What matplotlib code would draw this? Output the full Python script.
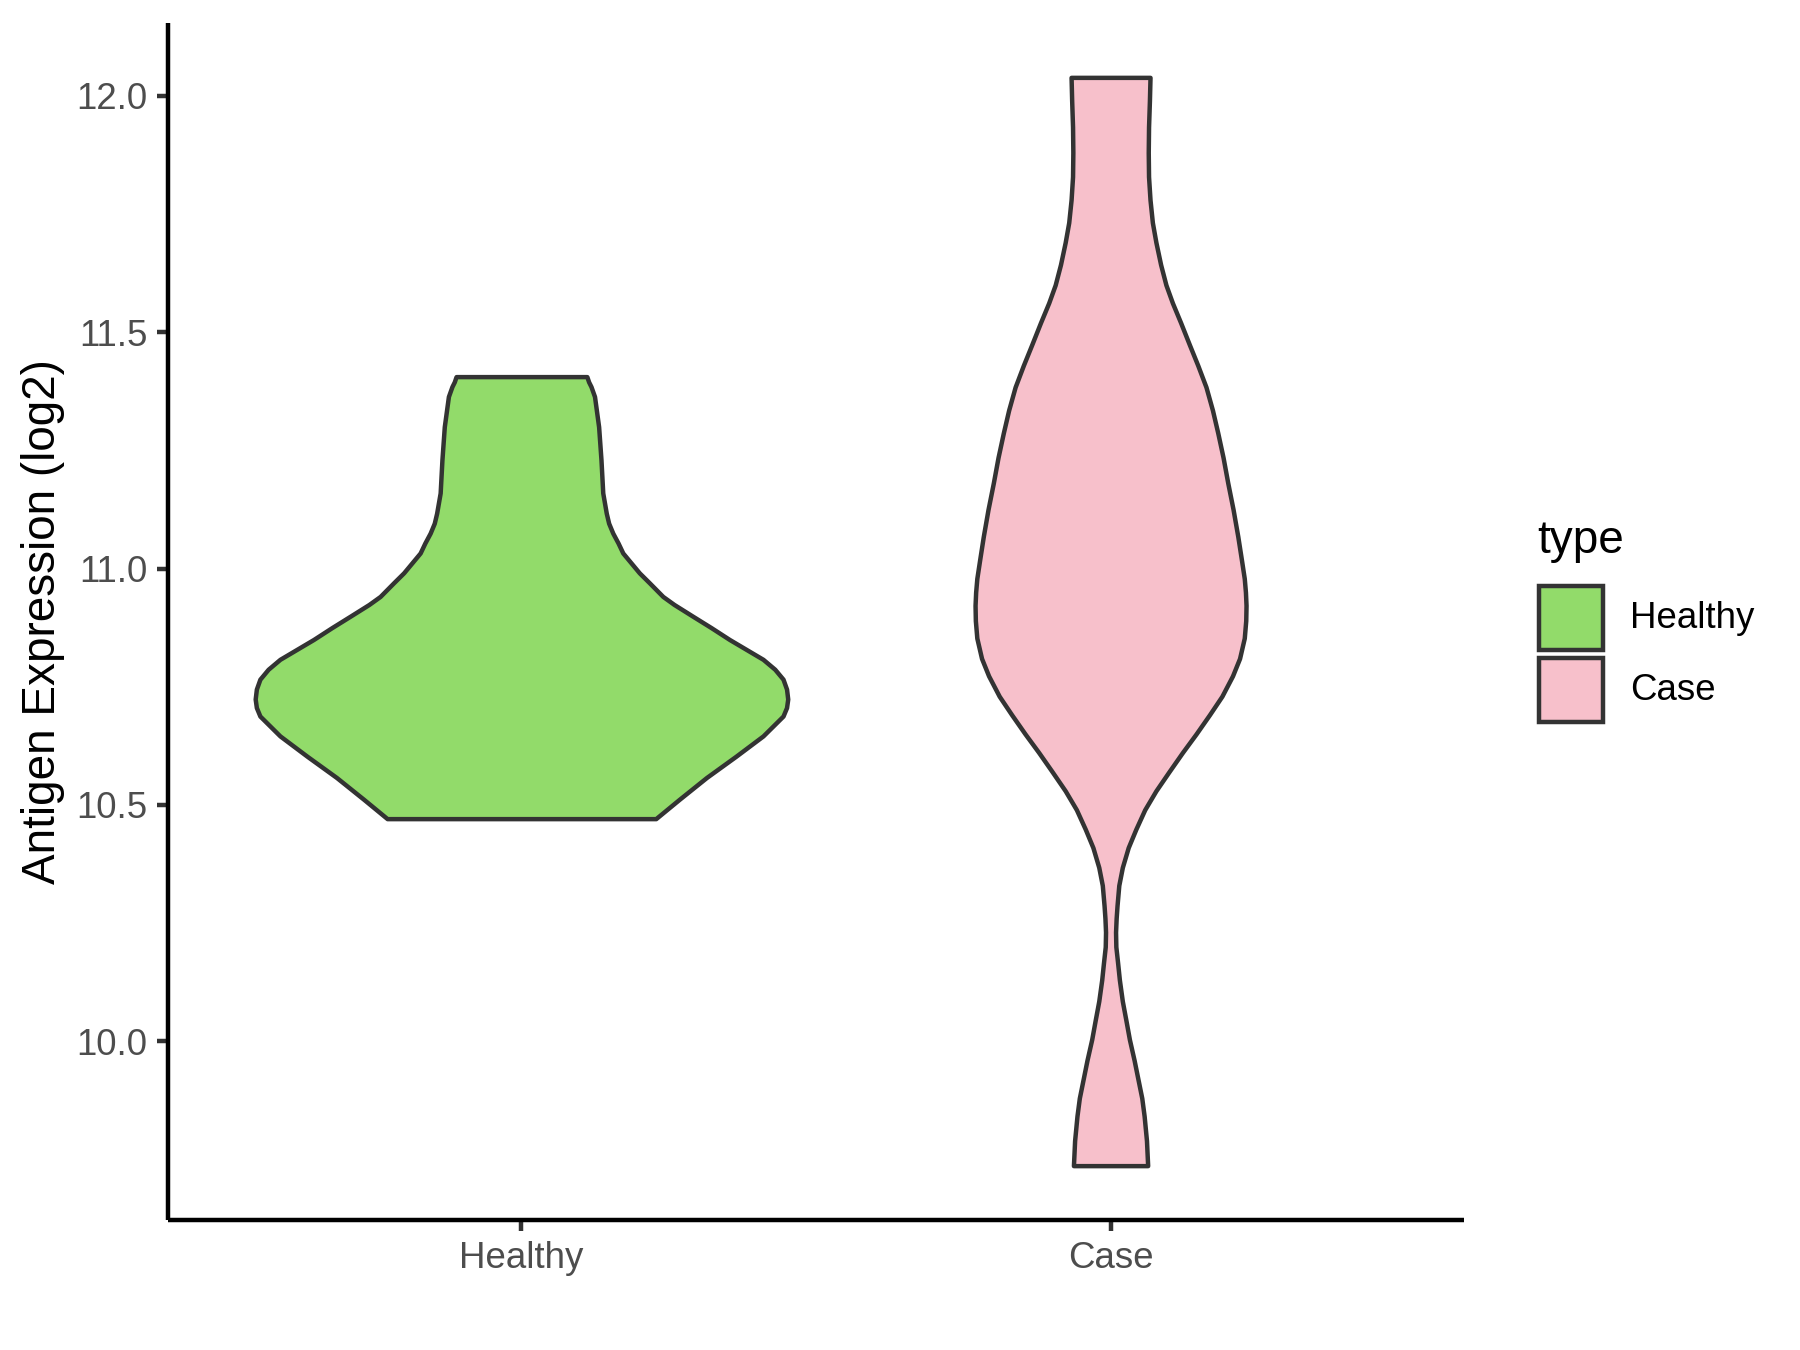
import matplotlib
matplotlib.use("Agg")
from matplotlib import pyplot as plt
from matplotlib.patches import Rectangle
import numpy as np

plt.rcParams['font.family'] = ['Liberation Sans', 'DejaVu Sans']

groups = ['Healthy', 'Case']
colors = ['#92DB6A', '#F7C0CB']

# violin outline: expression value -> half width (x units)
healthy_y = [11.406, 11.395, 11.385, 11.364, 11.300, 11.230, 11.160, 11.117, 11.096,
             11.075, 11.054, 11.033, 11.012, 10.991, 10.970, 10.941, 10.924, 10.899,
             10.875, 10.850, 10.808, 10.787, 10.766, 10.745, 10.724, 10.706, 10.688,
             10.667, 10.646, 10.603, 10.558, 10.512, 10.471]
healthy_w = [0.111, 0.114, 0.118, 0.124, 0.131, 0.135, 0.138, 0.144, 0.148,
             0.155, 0.164, 0.172, 0.186, 0.200, 0.217, 0.240, 0.259, 0.291,
             0.322, 0.353, 0.410, 0.430, 0.444, 0.450, 0.452, 0.450, 0.444,
             0.427, 0.410, 0.364, 0.314, 0.268, 0.228]

case_y = [12.039, 11.990, 11.934, 11.880, 11.829, 11.780, 11.732, 11.690, 11.643,
          11.600, 11.562, 11.520, 11.473, 11.430, 11.384, 11.335, 11.287, 11.235,
          11.181, 11.125, 11.068, 11.020, 10.979, 10.950, 10.922, 10.890, 10.853,
          10.810, 10.773, 10.730, 10.691, 10.650, 10.611, 10.570, 10.530, 10.490,
          10.449, 10.410, 10.368, 10.330, 10.287, 10.260, 10.231, 10.200, 10.166,
          10.130, 10.085, 10.045, 10.004, 9.960, 9.923, 9.880, 9.842, 9.790, 9.737]
case_w = [0.067, 0.066, 0.0645, 0.064, 0.0645, 0.067, 0.071, 0.077, 0.085,
          0.094, 0.105, 0.119, 0.134, 0.148, 0.162, 0.173, 0.182, 0.191,
          0.199, 0.208, 0.216, 0.222, 0.227, 0.229, 0.230, 0.2295, 0.227,
          0.219, 0.207, 0.189, 0.168, 0.145, 0.122, 0.099, 0.077, 0.058,
          0.043, 0.030, 0.020, 0.014, 0.011, 0.0095, 0.0085, 0.009, 0.012,
          0.015, 0.020, 0.026, 0.032, 0.040, 0.046, 0.053, 0.057, 0.061, 0.063]

yticks = [10.0, 10.5, 11.0, 11.5, 12.0]


def main():
    fig = plt.figure(figsize=(6, 4.5), dpi=300)
    ax = fig.add_axes([168 / 1800, 130 / 1350, 1296 / 1800, 1197 / 1350])

    lw = 1.07
    edge = '#333333'
    profiles = [(healthy_y, healthy_w), (case_y, case_w)]
    for i, (yy, ww) in enumerate(profiles):
        pos = i + 1
        yy = np.array(yy)
        ww = np.array(ww)
        ax.fill_betweenx(yy, pos - ww, pos + ww, facecolor=colors[i],
                         edgecolor=edge, linewidth=lw, joinstyle='round')

    ax.set_xlim(0.4, 2.6)
    ax.set_ylim(9.622, 12.154)
    ax.set_xticks([1, 2])
    ax.set_xticklabels(groups)
    ax.set_yticks(yticks)
    ax.set_yticklabels(['%.1f' % t for t in yticks])
    ax.tick_params(axis='both', length=2.75, width=lw, color=edge,
                   labelsize=8.8, labelcolor='#4D4D4D', pad=2.2)
    for s in ['top', 'right']:
        ax.spines[s].set_visible(False)
    for s in ['left', 'bottom']:
        ax.spines[s].set_linewidth(lw)
        ax.spines[s].set_color('black')
        ax.spines[s].set_capstyle('butt')
    ax.set_ylabel('Antigen Expression (log2)', fontsize=11, color='black', labelpad=2.8)

    # legend
    fig.text(1537 / 1800, (1350 - 553) / 1350, 'type', fontsize=11,
             ha='left', va='baseline')
    tops = [586, 658]
    for i, g in enumerate(groups):
        t = tops[i]
        fig.add_artist(Rectangle((1539 / 1800, (1350 - t - 64) / 1350), 64 / 1800, 64 / 1350,
                                 transform=fig.transFigure, facecolor=colors[i],
                                 edgecolor=edge, linewidth=lw))
        fig.text(1630 / 1800, (1350 - t - 33) / 1350, g, fontsize=8.8,
                 ha='left', va='center')

    fig.savefig('out.png', dpi=300, facecolor='white')


if __name__ == '__main__':
    main()
